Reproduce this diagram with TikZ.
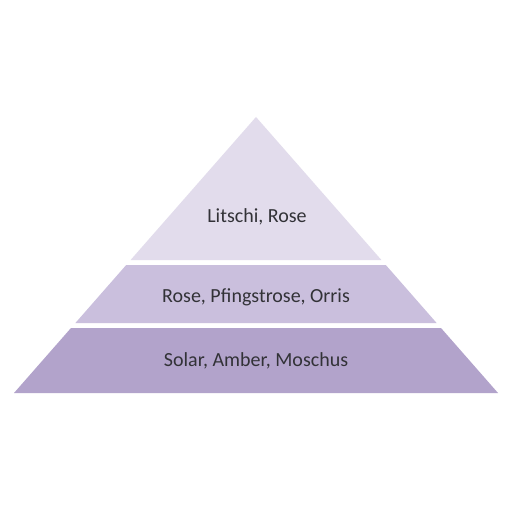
\documentclass[tikz,border=0pt]{standalone}
\usepackage{fontspec}
\setmainfont{Carlito}
\definecolor{layerA}{RGB}{226,220,236}
\definecolor{layerB}{RGB}{202,191,221}
\definecolor{layerC}{RGB}{178,163,203}
\definecolor{txt}{RGB}{50,50,55}
\tikzset{
  layer/.style={draw=none},
  lbl/.style={text=txt, font=\fontsize{20}{24}\selectfont, inner sep=0pt, anchor=center}
}
\begin{document}
\begin{tikzpicture}[x=1pt,y=-1pt]
\useasboundingbox (0,0) rectangle (510,510);
\fill[white] (0,0) rectangle (510,510);
% top layer
\fill[layer, layerA] (256,117) -- (381.4,260) -- (130.6,260) -- cycle;
% middle layer
\fill[layer, layerB] (126.2,265) -- (385.8,265) -- (436.6,323) -- (75.4,323) -- cycle;
% bottom layer
\fill[layer, layerC] (71,328) -- (441,328) -- (498,393) -- (14,393) -- cycle;
\node[lbl] (top) at (257,217) {Litschi, Rose};
\node[lbl] (mid) at (256,297) {Rose, Pfingstrose, Orris};
\node[lbl] (bot) at (256,361) {Solar, Amber, Moschus};
\end{tikzpicture}
\end{document}
